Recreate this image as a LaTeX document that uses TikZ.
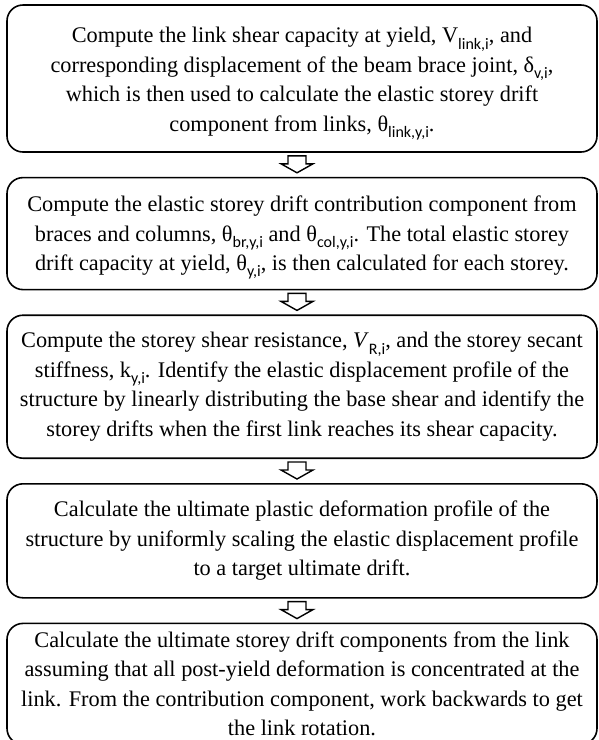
\documentclass[tikz,border=0pt]{standalone}
\usepackage{fontspec}
\setmainfont{Liberation Serif}
\newfontfamily\subfont{Carlito}
\usetikzlibrary{positioning,calc}
\newcommand{\lowidx}[1]{\raisebox{-0.28em}{\fontsize{16}{16}\selectfont\subfont #1}}

\begin{document}
\begin{tikzpicture}[x=1pt,y=-1pt,
  stagebox/.style={draw,line width=1.6pt,rounded corners=16pt,minimum width=590pt,align=center,inner sep=0pt,font=\fontsize{22.3}{29.5}\selectfont},
  hollow/.style={draw,line width=1.4pt,fill=white}]
\useasboundingbox (0,0) rectangle (598,740);
\node[stagebox,minimum height=147pt] (s1) at (302,78.5) {\rule{0pt}{26pt}Compute the link shear capacity at yield, V\lowidx{link,i}, and\\
corresponding displacement of the beam brace joint, δ\lowidx{v,i},\\
which is then used to calculate the elastic storey drift\\
component from links, θ\lowidx{link,y,i}.};
\node[stagebox,minimum height=112pt,below=24pt of s1] (s2) {\rule{0pt}{24pt}Compute the elastic storey drift contribution component from\\
braces and columns, θ\lowidx{br,y,i} and θ\lowidx{col,y,i}. The total elastic storey\\
drift capacity at yield, θ\lowidx{y,i}, is then calculated for each storey.};
\node[stagebox,minimum height=143pt,below=24pt of s2] (s3) {Compute the storey shear resistance, \textit{V}\lowidx{R,i}, and the storey secant\\
stiffness, k\lowidx{y,i}. Identify the elastic displacement profile of the\\
structure by linearly distributing the base shear and identify the\\
storey drifts when the first link reaches its shear capacity.};
\node[stagebox,minimum height=114pt,below=24pt of s3] (s4) {Calculate the ultimate plastic deformation profile of the\\
structure by uniformly scaling the elastic displacement profile\\
to a target ultimate drift.};
\node[stagebox,minimum height=121pt,below=24pt of s4] (s5) {Calculate the ultimate storey drift components from the link\\
assuming that all post-yield deformation is concentrated at the\\
link. From the contribution component, work backwards to get\\
the link rotation.};
\foreach \a/\b in {s1/s2,s2/s3,s3/s4,s4/s5}
  \draw[hollow] ($(\a.south)!.5!(\b.north)+(-5,-9)$) coordinate (m\a)
    -- ++(-9,0) -- ++(0,8) -- ++(-7,0) -- ++(16,9) -- ++(16,-9) -- ++(-7,0) -- ++(0,-8) -- cycle;
\end{tikzpicture}
\end{document}
